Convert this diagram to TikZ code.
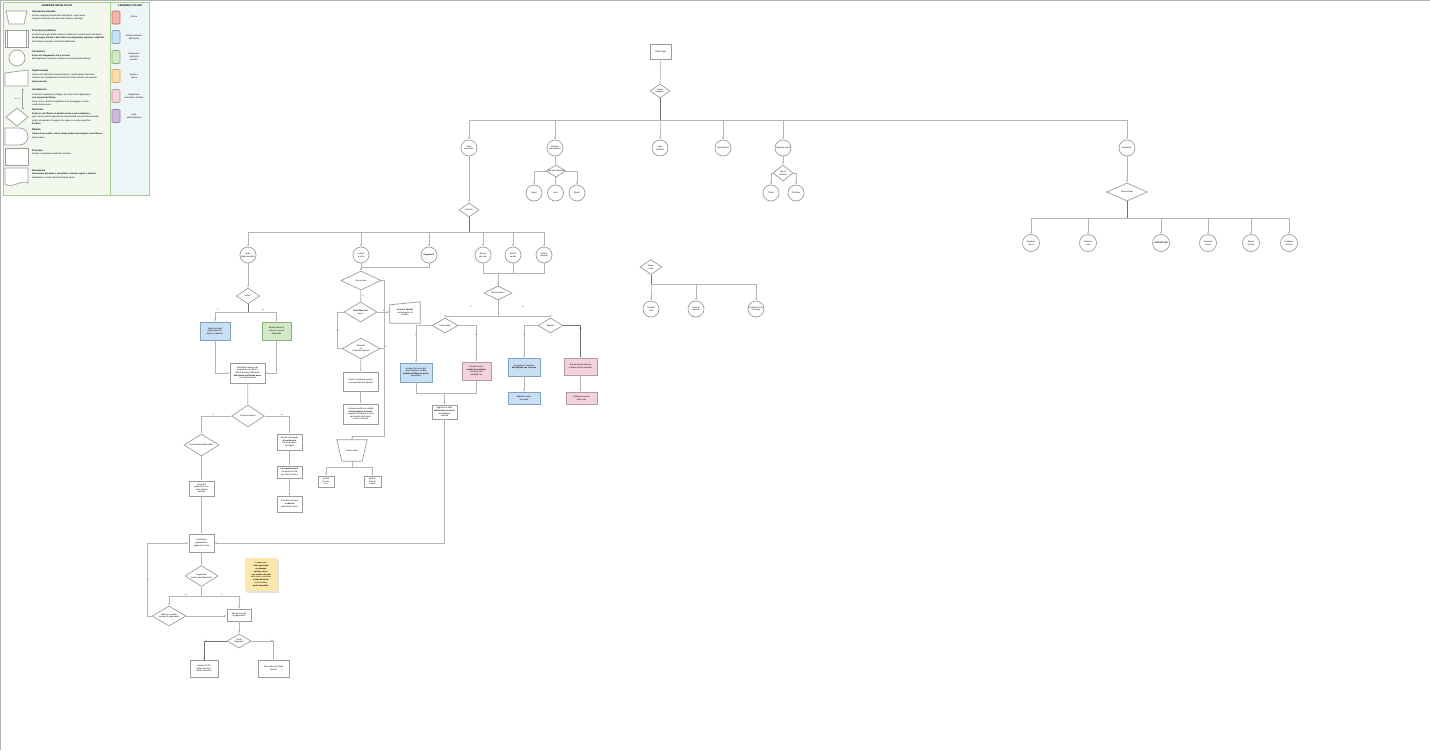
\documentclass[tikz,border=0pt]{standalone}
\usepackage{fontspec}
\setmainfont{Liberation Sans}
\usetikzlibrary{shapes.geometric,arrows.meta}
\definecolor{lineC}{HTML}{B4B4B4}
\definecolor{boxC}{HTML}{9C9C9C}
\definecolor{dkC}{HTML}{707070}
\definecolor{legG}{HTML}{A9D18E}
\definecolor{legAbg}{HTML}{F2F8EE}
\definecolor{legBbg}{HTML}{EEF5F7}
\definecolor{bluF}{HTML}{C9E0F4}
\definecolor{bluD}{HTML}{7FA2C6}
\definecolor{pinF}{HTML}{F4D2DC}
\definecolor{pinD}{HTML}{B49AA3}
\definecolor{grnF}{HTML}{D3E8C6}
\definecolor{grnD}{HTML}{8CB07A}
\definecolor{redF}{HTML}{F5B3AB}
\definecolor{redD}{HTML}{D56B61}
\definecolor{orgF}{HTML}{FDDDAE}
\definecolor{orgD}{HTML}{E3A54A}
\definecolor{purF}{HTML}{CDB9D9}
\definecolor{purD}{HTML}{9A7DAC}
\definecolor{notF}{HTML}{FCE8AA}
\newcommand\myfs{\fontsize{2.4}{2.9}\selectfont}
\newcommand\mysm{\fontsize{2.1}{2.6}\selectfont}
\newcommand\myti{\fontsize{2.6}{3}\selectfont\bfseries}
\tikzset{
  ln/.style={draw=lineC, line width=0.7pt},
  dk/.style={draw=dkC, line width=0.7pt},
  arr/.style={ln, -{Latex[length=2.2pt,width=1.8pt]}},
  tx/.style={font=\myfs, align=center, inner sep=0pt},
  sx/.style={font=\mysm, align=center, inner sep=0pt},
  box/.style 2 args={rectangle, draw=boxC, line width=0.7pt, fill=white, minimum width=#1pt, minimum height=#2pt, inner sep=0.3pt, font=\mysm, align=center},
  bbox/.style 2 args={box={#1}{#2}, fill=bluF, draw=bluD},
  pbox/.style 2 args={box={#1}{#2}, fill=pinF, draw=pinD},
  gbox/.style 2 args={box={#1}{#2}, fill=grnF, draw=grnD},
  dia/.style 2 args={diamond, draw=boxC, line width=0.7pt, fill=white, minimum width=#1pt, minimum height=#2pt, inner sep=0pt},
  circ/.style={circle, draw=boxC, line width=0.7pt, fill=white, minimum size=16pt, inner sep=0pt},
  lshape/.style={draw=boxC, line width=0.7pt, fill=white},
  swatch/.style 2 args={rectangle, rounded corners=1pt, line width=0.7pt, fill=#1, draw=#2, minimum width=8pt, minimum height=13pt, inner sep=0pt},
  brl/.style={font=\fontsize{1.8}{2}\selectfont, inner sep=0.3pt, text=black!70}
}
\begin{document}
\begin{tikzpicture}[x=1pt,y=-1pt]
\useasboundingbox (0,0) rectangle (1430,750);
\fill[white] (0,0) rectangle (1430,750);
\draw[black!30, line width=0.8pt] (0.4,750) -- (0.4,0.4) -- (1430,0.4);

% ---------------- LEGEND ----------------
\node[draw=legG, fill=legAbg, line width=0.8pt, minimum width=107pt, minimum height=193pt, anchor=north west, inner sep=0] (legA) at (3,2) {};
\node[draw=legG, fill=legBbg, line width=0.8pt, minimum width=39pt, minimum height=193pt, anchor=north west, inner sep=0] (legB) at (110,2) {};
\node[font=\myti] (legAt) at (57,6) {LEGENDA DEI BLOCCHI};
\node[font=\myti] (legBt) at (130,6) {LEGENDA COLORI};

% legend shapes
\draw[lshape] (6,11) -- (27,11) -- (24,24) -- (9,24) -- cycle;
\draw[lshape] (5,30) rectangle (28,47);
\draw[boxC, line width=0.7pt] (7,30) -- (7,47) (26,30) -- (26,47);
\draw[lshape] (17,58) circle[radius=8pt];
\draw[lshape] (5,73) -- (28,70) -- (28,86) -- (5,86) -- cycle;
\draw[boxC, line width=0.7pt] (24,89) -- (22,89) -- (22,108) -- (24,108);
\draw[boxC, line width=0.5pt, dashed, dash pattern=on 1pt off 1pt] (15,98) -- (20,98);
\draw[lshape] (17,108) -- (28,117) -- (17,126) -- (6,117) -- cycle;
\draw[lshape] (5,128) -- (19.5,128) arc[start angle=90, end angle=-90, radius=8.5pt] -- (5,145) -- cycle;
\draw[lshape] (5,148) rectangle (28,165);
\draw[lshape] (5,168) -- (28,168) -- (28,183) .. controls (22,179) and (12,189) .. (5,184) -- cycle;

\tikzset{lt/.style={font=\fontsize{2.4}{2.8}\selectfont\bfseries, anchor=west, inner sep=0}, ld/.style={font=\fontsize{2.2}{3.5}\selectfont, anchor=north west, align=left, inner sep=0}}
\node[lt] (t1) at (32,12) {Operazione manuale};
\node[ld] (e1) at (32,14.5) {Azione eseguita manualmente dall'utente, senza alcun\\supporto automatico da parte del sistema o dell'app.};
\node[lt] (t2) at (32,31) {Processo predefinito};
\node[ld] (e2) at (32,33.5) {Sottoprocesso gi\`a definito altrove, richiamato in questo punto del flusso;\\\textbf{la sua logica interna \`e descritta in un diagramma separato e dedicato}\\alla funzione specifica richiamata dall'utente.};
\node[lt] (t3) at (32,52) {Connettore};
\node[ld] (e3) at (32,54.3) {\textbf{Punto di collegamento tra le sezioni}\\del diagramma, usato per indicare le aree principali dell'app.};
\node[lt] (t4) at (32,71) {Input manuale};
\node[ld] (e4) at (32,73.7) {Dati inseriti dall'utente tramite tastiera o moduli della schermata;\\richiede una compilazione esplicita dei campi richiesti, ad esempio\\\textbf{dati personali}.};
\node[lt] (t5) at (32,90) {Annotazione};
\node[ld] (e5) at (32,93.3) {Commento esplicativo collegato a un blocco del diagramma;\\\textbf{non fa parte del flusso}.\\Serve solo a chiarire il significato di un passaggio o di una\\scelta del processo.};
\node[lt] (t6) at (32,110) {Decisione};
\node[ld] (e6) at (32,112.3) {\textbf{Punto in cui il flusso si divide in base a una condizione};\\ogni ramo in uscita rappresenta una possibile risposta alla domanda\\posta, ad esempio S\`i oppure No, oppure un valore specifico\\\textbf{del dato}.};
\node[lt] (t7) at (32,130) {Ritardo};
\node[ld] (e7) at (32,132.9) {\textbf{Attesa di un evento o di un tempo prima di proseguire con il flusso}\\del processo.};
\node[lt] (t8) at (32,151) {Processo};
\node[ld] (e8) at (32,153) {Azione o operazione svolta dal sistema.};
\node[lt] (t9) at (32,171) {Documento};
\node[ld] (e9) at (32,173) {\textbf{Documento generato o consultato: ricevuta, report o modulo}\\stampabile o inviato all'utente tramite email.};

% color legend
\node[swatch={redF}{redD}] (s1) at (116,17.5) {};
\node[swatch={bluF}{bluD}] (s2) at (116,37) {};
\node[swatch={grnF}{grnD}] (s3) at (116,57) {};
\node[swatch={orgF}{orgD}] (s4) at (116,76) {};
\node[swatch={pinF}{pinD}] (s5) at (116,96) {};
\node[swatch={purF}{purD}] (s6) at (116,116) {};
\tikzset{cl/.style={font=\fontsize{2.2}{2.8}\selectfont, align=center, inner sep=0}}
\node[cl] (l1) at (134,17) {Errore};
\node[cl] (l2) at (134,37) {Azione richiesta\\dall'utente};
\node[cl] (l3) at (134,57) {Successo e\\conferma\\dei dati};
\node[cl] (l4) at (134,76) {Avviso o\\attesa};
\node[cl] (l5) at (134,96) {Operazione\\annullata o rifiutata};
\node[cl] (l6) at (134,116) {Area\\amministrativa};

% ---------------- ROOT ----------------
\node[box={21}{15}, font=\myfs] (n0) at (660.5,51.5) {Avvio app};
\node[dia={20}{14}, label={[sx]center:{Utente\\loggato?}}] (d0) at (660,91) {};
\node[circ, label={[sx]center:{Area\\personale}}] (c1) at (469,148) {};
\node[circ, label={[sx]center:{Gestione\\prenotazioni}}] (c2) at (555,148) {};
\node[circ, label={[sx]center:{Area\\notifiche}}] (c3) at (660,148) {};
\node[circ, label={[sx]center:{Impostazioni}}] (c4) at (723,148) {};
\node[circ, label={[sx]center:{Supporto utenti}}] (c5) at (783,148) {};
\node[circ, label={[sx]center:{Amministr.}}] (c6) at (1127,148) {};
\draw[arr] (n0) -- (d0);
\foreach \c in {c1,c2,c3,c4,c5,c6} \draw[arr] (d0.south) -- ++(0,22) -| (\c.north);
\draw[dk] (d0.south) -- ++(0,22);

% c2 subtree
\node[dia={20}{12}, label={[sx]center:{Tipo prenotazione}}] (dc2) at (556,171) {};
\node[circ, label={[sx]center:{Sport}}] (c21) at (534,193) {};
\node[circ, label={[sx]center:{Corsi}}] (c22) at (555.5,193) {};
\node[circ, label={[sx]center:{Eventi}}] (c23) at (577,193) {};
\draw[arr] (c2) -- (dc2);
\draw[arr] (dc2.west) -| (c21.north);
\draw[arr] (dc2.south) -- (dc2.south -| c22.north) -- (c22.north);
\draw[arr] (dc2.east) -| (c23.north);

% c5 subtree
\node[dia={20}{16}, label={[sx]center:{Tipo di\\richiesta}}] (dc5) at (783,173) {};
\node[circ, label={[sx]center:{Ticket}}] (c51) at (771,193) {};
\node[circ, label={[sx]center:{Chat live}}] (c52) at (796,193) {};
\draw[arr] (c5) -- (dc5);
\draw[arr] (dc5.west) -| (c51.north);
\draw[arr] (dc5.east) -| (c52.north);

% c6 subtree
\node[dia={41}{18}, label={[sx]center:{Ruolo utente}}] (dc6) at (1127,192) {};
\tikzset{ca/.style={circ, minimum size=17pt}}
\node[ca, label={[sx]center:{Gestione\\utenti}}] (c61) at (1031,243) {};
\node[ca, label={[sx]center:{Gestione\\corsi}}] (c62) at (1088,243) {};
\node[ca, label={[sx,font=\mysm\bfseries]center:{STATISTICHE}}] (c63) at (1161,243) {};
\node[ca, label={[sx]center:{Gestione\\eventi}}] (c64) at (1208,243) {};
\node[ca, label={[sx]center:{Report\\mensili}}] (c65) at (1251,243) {};
\node[ca, label={[sx]center:{Configura\\sistema}}] (c66) at (1289,243) {};
\draw[arr] (c6) -- (dc6);
\foreach \c in {c61,c62,c63,c64,c65,c66} \draw[arr] (dc6.south) -- ++(0,17) -| (\c.north);
\draw[dk] (dc6.south) -- ++(0,17);

% isolated group
\node[dia={22}{15}, label={[sx]center:{Menu\\extra}}] (dG) at (651,267) {};
\node[circ, label={[sx]center:{Contatti\\club}}] (g1) at (651,309) {};
\node[circ, label={[sx]center:{Orari di\\apertura}}] (g2) at (696,309) {};
\node[circ, label={[sx]center:{Condizioni d'uso\\e privacy}}] (g3) at (756,309) {};
\foreach \c in {g1,g2,g3} \draw[arr] (dG.south) -- ++(0,9.5) -| (\c.north);
\draw[dk] (dG.south) -- ++(0,9.5);

% c1 subtree
\node[dia={20}{14}, label={[sx]center:{Sezione}}] (dc1) at (469,210) {};
\draw[arr] (c1) -- (dc1);
\node[circ, label={[sx]center:{Stato\\abbonamento}}] (L1) at (248,255) {};
\node[circ, label={[sx]center:{Lezioni\\e corsi}}] (M1) at (361,255) {};
\node[circ, label={[sx,font=\mysm\bfseries]center:{Pagamenti}}] (P0) at (429,255) {};
\node[circ, label={[sx]center:{Eventi\\del club}}] (Q1) at (483,255) {};
\node[circ, label={[sx]center:{Eventi\\sociali}}] (Q2) at (513,255) {};
\node[circ, label={[sx]center:{Eventi\\speciali}}] (Q3) at (544,255) {};
\foreach \c in {L1,M1,P0,Q1,Q2,Q3} \draw[arr] (dc1.south) -- ++(0,15) -| (\c.north);
\draw[dk] (dc1.south) -- ++(0,15);

% ---- left branch ----
\node[dia={23}{16}, label={[sx]center:{Attivo?}}] (dL1) at (248,296) {};
\draw[arr] (L1) -- (dL1);
\node[bbox={30}{18}] (Lb) at (215,331) {Mostra dettagli\\abbonamento e\\data di scadenza};
\node[gbox={29}{18}] (Lg) at (276.5,331) {Mostra offerte di\\rinnovo e sconti\\disponibili};
\draw[arr] (dL1.south) -- ++(0,8) -| (Lb.north);
\draw[arr] (dL1.south) -- ++(0,8) -| (Lg.north);
\draw[dk] (dL1.south) -- ++(0,8);
\node[brl] (y1) at (218,310) {S\`i};
\node[brl] (y2) at (263,310) {No};
\node[box={35}{20}] (Lj) at (247.5,373) {Visualizza riepilogo dei\\pagamenti e lo storico\\delle transazioni effettuate\\\textbf{dall'utente nell'ultimo anno}\\con relativi importi};
\draw[arr] (Lb.south) |- (Lj.west);
\draw[arr] (Lg.south) |- (Lj.east);
\node[dia={33}{22}, label={[sx]center:{Vuole rinnovare?}}] (dL2) at (248,416) {};
\draw[arr] (Lj) -- (dL2);
\node[dia={35}{22}, label={[sx]center:{Carta salvata disponibile?}}] (dL3) at (201.5,445) {};
\node[box={25}{16}] (R1) at (289.5,442) {Mostra messaggio\\\textbf{di conferma e}\\ritorna al menu\\principale};
\node[box={25}{12}] (R2) at (289.5,472) {\textbf{Invia promemoria}\\via email con link\\per rinnovo futuro};
\node[box={25}{16}] (R3) at (289.5,504) {Chiudi la sessione\\\textbf{e salva le}\\preferenze utente};
\draw[arr] (dL2.west) -| (dL3.north);
\draw[arr] (dL2.east) -| (R1.north);
\node[brl] (y3) at (213,415) {S\`i};
\node[brl] (y4) at (282,415) {No};
\draw[arr] (R1) -- (R2);
\draw[arr] (R2) -- (R3);
\node[box={25}{15}] (L4) at (201.5,488.5) {Procedi al\\pagamento con\\carta salvata\\nell'app};
\draw[arr] (dL3) -- (L4);
\node[box={25}{18}] (L5) at (201.5,543) {Conferma il\\pagamento e\\aggiorna lo stato};
\draw[arr] (L4) -- (L5);
\node[dia={33}{21}, label={[sx]center:{Pagamento\\riuscito correttamente?}}] (dL6) at (201.5,576) {};
\draw[arr] (L5) -- (dL6);
\node[dia={34}{20}, label={[sx]center:{Ritenta o cambia\\metodo di pagamento}}] (dL7) at (169,616) {};
\node[box={24}{12}] (L8) at (239,615) {Mostra ricevuta\\di pagamento};
\draw[arr] (dL6.south) -- ++(0,9.5) -| (dL7.north);
\draw[arr] (dL6.south) -- ++(0,9.5) -| (L8.north);
\node[brl] (y5) at (186,595) {No};
\node[brl] (y6) at (222,595) {S\`i};
\draw[arr] (dL7.east) -- (dL7.east -| L8.west);
\draw[arr] (dL7.west) -- ++(-4,0) |- (L5.west);
\node[brl] (y7) at (148,580) {S\`i};
\node[dia={24}{14}, label={[sx]center:{Vuole\\stampare?}}] (dL9) at (239,641) {};
\draw[arr] (L8) -- (dL9);
\node[box={28}{17}] (L10) at (204,668.5) {Genera il PDF\\della ricevuta e\\invialo via email};
\node[box={31}{17}] (L11) at (273.5,668.5) {Torna alla schermata\\iniziale};
\draw[arr] (dL9.west) -| (L10.north);
\draw[dk] (dL9.west) -| ([yshift=-1pt]L10.north);
\draw[arr] (dL9.east) -| (L11.north);
\node[brl] (y8) at (206,641) {S\`i};
\node[brl] (y9) at (272,641) {No};
% note
\fill[black!12] (246.5,559.5) rectangle (278.5,592.5);
\node[rectangle, fill=notF, minimum width=32pt, minimum height=33pt, font=\fontsize{2}{2.95}\selectfont, align=center, inner sep=0.3pt] (note) at (261,574.5) {Il pagamento\\\textbf{viene gestito da}\\\textbf{un gateway}\\\textbf{esterno sicuro}\\\textbf{con verifica dei dati}\\della carta e conferma\\\textbf{inviata all'utente}\\tramite notifica\\\textbf{push immediata}.};

% ---- middle branch ----
\node[dia={40}{19}, label={[sx]center:{Cerca corso}}] (dM1) at (361,280.5) {};
\draw[arr] (M1) -- (dM1);
\draw[arr] (P0.south) -- ++(0,4) -| (dM1.north);
\node[dia={33}{20}, label={[sx]center:{\textbf{Posti liberi nel}\\corso?}}] (dM2) at (360.5,312) {};
\draw[arr] (dM1) -- (dM2);
\node[brl] (y10) at (363,296) {S\`i};
\node (P1) [rectangle, minimum width=30pt, minimum height=21pt, font=\mysm, align=center, inner sep=0pt] at (405,312.5) {\textbf{Inserisci dati del}\\partecipante nel\\modulo};
\draw[lshape, fill=none] (P1.south west) -- (P1.south east) -- (P1.north east) -- ([yshift=-3pt]P1.north west) -- cycle;
\draw[arr] (dM2.east) -- (dM2.east -| P1.west);
\node[brl] (y11) at (384,311) {S\`i};
\node[dia={38}{21}, label={[sx]center:{Richiede\\un\\certificato medico?}}] (dM3) at (361,348.5) {};
\draw[arr] (dM2.west) -- ++(-6,0) |- (dM3.west);
\node[brl] (y12) at (338,331) {No};
\coordinate (k1) at (384,436);
\node[box={35}{19}] (M4) at (360.5,381.5) {Carica il certificato medico\\e un documento di identit\`a};
\draw[arr] (dM3) -- (M4);
\node[box={35}{20}] (M5) at (360.5,414) {Il sistema verifica la validit\`a\\\textbf{del documento caricato}\\e registra l'iscrizione al corso\\selezionato dall'utente\\e invia conferma};
\draw[arr] (M4) -- (M5);
\node (T1) [rectangle, minimum width=30pt, minimum height=21pt, font=\mysm, inner sep=0pt] at (352,450.5) {Scelta utente};
\draw[lshape, fill=none] (T1.north west) -- (T1.north east) -- ([xshift=-5pt]T1.south east) -- ([xshift=5pt]T1.south west) -- cycle;
\draw[arr] (dM1.east) -| (k1) -| (T1.north);
\draw[ln] (dM3.east) -- (dM3.east -| k1);
\node[brl] (y13) at (386,347) {No};
\node[box={16}{11}] (T2) at (326,481.5) {Iscriviti\\al corso\\ora};
\node[box={17}{11}] (T3) at (372.5,481.5) {Metti in\\lista di\\attesa};
\draw[arr] (T1.south) -- ++(0,6) -| (T2.north);
\draw[arr] (T1.south) -- ++(0,6) -| (T3.north);

% ---- right-middle branch ----
\node[dia={28}{14}, label={[sx]center:{Evento pieno?}}] (dQ) at (498,293) {};
\foreach \c in {Q1,Q2,Q3} \draw[ln] (\c.south) -- ++(0,10) -| (dQ.north);
\draw[arr] (Q2.south) -- ++(0,10) -| (dQ.north);
\node[dia={26}{15}, label={[sx]center:{Lista attesa}}] (dQa) at (445,325.5) {};
\node[dia={25}{15}, label={[sx]center:{Biglietto}}] (dQb) at (550.5,325.5) {};
\draw[arr] (dQ.south) -- ++(0,16) -| (dQa.north);
\draw[arr] (dQ.south) -- ++(0,16) -| (dQb.north);
\node[brl] (y14) at (471,307) {S\`i};
\node[brl] (y15) at (523,307) {No};
\node[bbox={32}{19}] (Qa1) at (416,372.5) {Inserisci l'utente nella\\lista d'attesa e notifica\\\textbf{quando si libera un posto}\\disponibile};
\node[pbox={29}{18}] (Qa2) at (476.5,371) {Mostra avviso:\\\textbf{evento al completo,}\\iscrizione non\\possibile ora};
\draw[arr] (dQa.west) -| (Qa1.north);
\draw[arr] (dQa.east) -| (Qa2.north);
\node[brl] (y16) at (416,335) {S\`i};
\node[brl] (y17) at (476,335) {No};
\node[box={25}{14}] (Mq) at (444.5,412) {Aggiorna lo stato\\\textbf{dell'iscrizione utente}\\nel database\\centrale};
\draw[arr] (Qa1.south) -- ++(0,11) -| (Mq.north);
\draw[arr] (Qa2.south) -- ++(0,13) -| (Mq.north);
\draw[arr] (Mq.south) |- (L5.east);
\node[bbox={32}{18}] (Qb1) at (524,367) {Procedi con l'acquisto\\\textbf{del biglietto per l'evento}};
\node[pbox={33}{17}] (Qb2) at (580.5,366.5) {Annulla la prenotazione\\e libera il posto riservato};
\draw[arr] (dQb.west) -| (Qb1.north);
\draw[arr] (dQb.east) -| (Qb2.north);
\draw[dk] (dQb.east) -| ([yshift=1pt]Qb2.north);
\node[brl] (y18) at (524,335) {S\`i};
\node[brl] (y19) at (581,329) {No};
\node[bbox={32}{12}] (Qb3) at (524,398) {Biglietto inviato\\via email};
\node[pbox={31}{12}] (Qb4) at (581.5,398) {Rimborso avviato\\sulla carta};
\draw[arr] (Qb1) -- (Qb3);
\draw[arr] (Qb2.south) -- (Qb2.south |- Qb4.north);
\end{tikzpicture}
\end{document}
